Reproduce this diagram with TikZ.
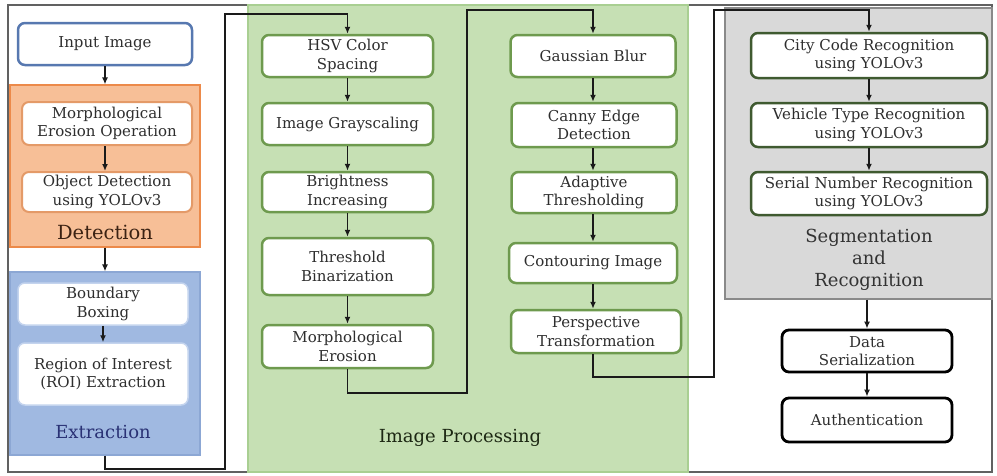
\documentclass[tikz,border=0pt]{standalone}
\usepackage{fontspec}
\setmainfont{DejaVu Serif}
\usetikzlibrary{arrows.meta}
\definecolor{orFill}{HTML}{F7BF97}
\definecolor{orLine}{HTML}{EC8A4A}
\definecolor{orBox}{HTML}{E49A68}
\definecolor{blFill}{HTML}{A0B9E1}
\definecolor{blLine}{HTML}{8CA7D4}
\definecolor{blBox}{HTML}{C4D4EE}
\definecolor{inLine}{HTML}{5778B0}
\definecolor{grFill}{HTML}{C6E0B4}
\definecolor{grLine}{HTML}{A9CF92}
\definecolor{grBox}{HTML}{6E9A4E}
\definecolor{gyFill}{HTML}{D9D9D9}
\definecolor{gyLine}{HTML}{8A8A8A}
\definecolor{gyBox}{HTML}{3F5A30}
\definecolor{txt}{HTML}{2E2E2E}
\definecolor{conn}{HTML}{1A1A1A}
\tikzset{
  boxtext/.style={font=\fontsize{15}{18.5}\selectfont, text=txt, align=center, inner sep=0pt},
  pbox/.style={boxtext, rounded corners=7pt, fill=white, line width=2.5pt},
  region/.style={draw, line width=1.2pt, inner sep=0pt},
  lbl/.style={font=\fontsize{18}{22}\selectfont, align=center, inner sep=0pt},
  arr/.style={draw=conn, line width=1.6pt, -{Latex[length=7pt,width=6pt]}}
}
\begin{document}
\begin{tikzpicture}[x=1pt,y=-1pt]
\useasboundingbox (0,0) rectangle (997,475);
\fill[white] (0,0) rectangle (997,475);
% outer frame
\draw[gyLine!70!black, line width=1.5pt] (8,5) rectangle (992,472);
% regions
\node[region, fill=orFill, draw=orLine, minimum width=190pt, minimum height=162pt] (det) at (105,166) {};
\node[region, fill=blFill, draw=blLine, minimum width=190pt, minimum height=183pt] (ext) at (105,363.5) {};
\node[region, fill=grFill, draw=grLine, minimum width=440pt, minimum height=467pt] (imp) at (468,238.5) {};
\node[region, fill=gyFill, draw=gyLine, minimum width=267pt, minimum height=291pt] (seg) at (858.5,153.5) {};
% left column
\node[pbox, draw=inLine, minimum width=174pt, minimum height=42pt] (input) at (105,44) {Input Image};
\node[pbox, draw=orBox, line width=2pt, minimum width=170pt, minimum height=43pt] (morph) at (107,123.5) {Morphological\\Erosion Operation};
\node[pbox, draw=orBox, line width=2pt, minimum width=170pt, minimum height=40pt] (objdet) at (107,192) {Object Detection\\using YOLOv3};
\node[lbl, font=\fontsize{19.5}{22}\selectfont, text=black!75!orLine] (detl) at (105,232) {Detection};
\node[pbox, draw=blBox, line width=1.5pt, minimum width=170pt, minimum height=42pt] (bbox) at (103,304) {Boundary\\Boxing};
\node[pbox, draw=blBox, line width=1.5pt, minimum width=170pt, minimum height=62pt] (roi) at (103,374) {Region of Interest\\(ROI) Extraction};
\node[lbl, text=black!70!blue!70!blLine] (extl) at (103,432) {Extraction};
% image processing column 1
\node[pbox, draw=grBox, minimum width=171pt, minimum height=42pt] (hsv) at (347.5,56) {HSV Color\\Spacing};
\node[pbox, draw=grBox, minimum width=171pt, minimum height=42pt] (gray) at (347.5,124) {Image Grayscaling};
\node[pbox, draw=grBox, minimum width=171pt, minimum height=40pt] (bright) at (347.5,192) {Brightness\\Increasing};
\node[pbox, draw=grBox, minimum width=171pt, minimum height=57pt] (thr) at (347.5,266.5) {Threshold\\Binarization};
\node[pbox, draw=grBox, minimum width=171pt, minimum height=43pt] (mero) at (347.5,346.5) {Morphological\\Erosion};
% column 2
\node[pbox, draw=grBox, minimum width=165pt, minimum height=42pt] (gauss) at (593,56) {Gaussian Blur};
\node[pbox, draw=grBox, minimum width=165pt, minimum height=44pt] (canny) at (594,125) {Canny Edge\\Detection};
\node[pbox, draw=grBox, minimum width=165pt, minimum height=41pt] (adapt) at (594,192.5) {Adaptive\\Thresholding};
\node[pbox, draw=grBox, minimum width=168pt, minimum height=40pt] (cont) at (593,263) {Contouring Image};
\node[pbox, draw=grBox, minimum width=170pt, minimum height=43pt] (persp) at (596,331.5) {Perspective\\Transformation};
\node[lbl, text=black!75!grBox] (impl) at (460,438) {Image Processing};
% segmentation
\node[pbox, draw=gyBox, minimum width=236pt, minimum height=45pt] (city) at (869,55.5) {City Code Recognition\\using YOLOv3};
\node[pbox, draw=gyBox, minimum width=236pt, minimum height=44pt] (veh) at (869,125) {Vehicle Type Recognition\\using YOLOv3};
\node[pbox, draw=gyBox, minimum width=236pt, minimum height=43pt] (ser) at (869,193.5) {Serial Number Recognition\\using YOLOv3};
\node[lbl, text=black!80] (segl) at (869,260) {Segmentation\\and\\Recognition};
\node[pbox, draw=black, line width=2.8pt, minimum width=170pt, minimum height=42pt] (data) at (867,351) {Data\\Serialization};
\node[pbox, draw=black, line width=2.8pt, minimum width=170pt, minimum height=44pt] (auth) at (867,420) {Authentication};
% turn points
\coordinate (k1) at (225,469);
\coordinate (k2) at (0,14);
\coordinate (k3) at (467,393);
\coordinate (k4) at (0,10);
\coordinate (k5) at (714,377);
\coordinate (k6) at (0,10);
% connectors
\draw[arr] (input.south) -- (det.north);
\draw[arr] (morph.south -| input.south) -- (objdet.north -| input.south);
\draw[arr] (det.south) -- (ext.north);
\draw[arr] (bbox.south) -- (roi.north);
\draw[arr] (ext.south) |- (k1) |- (hsv.north |- k2) -- (hsv.north);
\draw[arr] (hsv) -- (gray);
\draw[arr] (gray) -- (bright);
\draw[arr] (bright) -- (thr);
\draw[arr] (thr) -- (mero);
\draw[arr] (mero.south) |- (k3) |- (gauss.north |- k4) -- (gauss.north);
\draw[arr] (gauss.south) -- (gauss.south |- canny.north);
\draw[arr] (gauss.south |- canny.south) -- (gauss.south |- adapt.north);
\draw[arr] (gauss.south |- adapt.south) -- (gauss.south |- cont.north);
\draw[arr] (gauss.south |- cont.south) -- (gauss.south |- persp.north);
\draw[arr] (gauss.south |- persp.south) |- (k5) |- (city.north |- k6) -- (city.north);
\draw[arr] (city) -- (veh);
\draw[arr] (veh) -- (ser);
\draw[arr] (seg.south -| data.north) -- (data.north);
\draw[arr] (data) -- (auth);
\end{tikzpicture}
\end{document}
